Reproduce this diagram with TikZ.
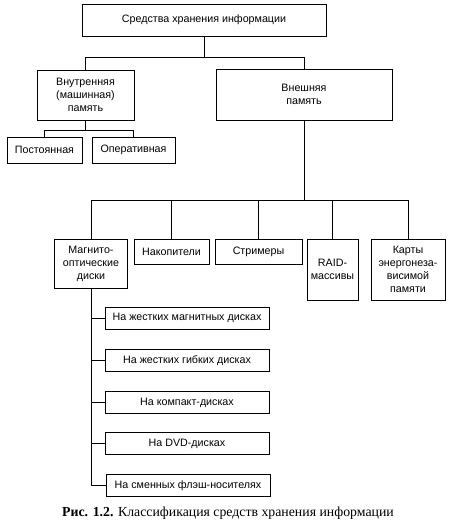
\documentclass[tikz,border=0pt]{standalone}
\usepackage{fontspec}
\setmainfont{Liberation Serif}
\setsansfont{Liberation Sans}
\usepackage{tikz}
\usetikzlibrary{positioning}

\begin{document}
\begin{tikzpicture}[x=1pt,y=-1pt,line width=0.8pt]
  \tikzstyle{box}=[draw,rectangle,align=center,inner sep=1pt,
                   font=\sffamily\fontsize{10.7}{13}\selectfont]
  \useasboundingbox (0,0) rectangle (453,527);

  \node[box,minimum width=244pt,minimum height=32pt] (Top)   at (204,20)    {Средства хранения информации};
  \node[box,minimum width=97pt,minimum height=50pt]  (Inner) at (85.5,95)   {Внутренняя\\(машинная)\\память};
  \node[box,minimum width=176pt,minimum height=51pt] (Outer) at (304,94.5)  {Внешняя\\память};
  \node[box,minimum width=75pt,minimum height=26pt]  (Rom)   at (44.5,150)  {Постоянная};
  \node[box,minimum width=83pt,minimum height=26pt]  (Ram)   at (133.5,150) {Оперативная};

  \node[box,minimum width=73pt,minimum height=49pt]  (Mag)   at (91,263.5)    {Магнито-\\оптические\\диски};
  \node[box,minimum width=75pt,minimum height=25pt]  (Nak)   at (171.5,251.5) {Накопители};
  \node[box,minimum width=87pt,minimum height=25pt]  (Strim) at (258.5,251.5) {Стримеры};
  \node[box,minimum width=51pt,minimum height=61pt]  (Raid)  at (332.5,269.5) {RAID-\\массивы};
  \node[box,minimum width=74pt,minimum height=61pt]  (Card)  at (408,269.5)   {Карты\\энергонеза-\\висимой\\памяти};

  \node[box,minimum width=164pt,minimum height=22pt] (S1) at (187,318)   {На жестких магнитных дисках};
  \node[box,minimum width=164pt,minimum height=22pt] (S2) at (187,360.5) {На жестких гибких дисках};
  \node[box,minimum width=164pt,minimum height=22pt] (S3) at (187,402.5) {На компакт-дисках};
  \node[box,minimum width=164pt,minimum height=22pt] (S4) at (187,443.5) {На DVD-дисках};
  \node[box,minimum width=164pt,minimum height=22pt] (S5) at (188,485.5) {На сменных флэш-носителях};

  \node[font=\fontsize{13.8}{16}\selectfont] (Cap) at (228,513)
    {\textbf{Рис. 1.2.} Классификация средств хранения информации};

  \draw (Top.south) -- ++(0,21) coordinate (t1);
  \draw (t1) -| (Inner);
  \draw (t1) -| (Outer);

  \draw (Inner.south) -- ++(0,10) coordinate (i1);
  \draw (i1) -| (Rom);
  \draw (i1) -| (Ram);

  \draw (Outer.south) -- ++(0,80) coordinate (o1);
  \draw (o1) -| (Mag);
  \draw (o1) -| (Nak);
  \draw (o1) -| (Strim);
  \draw (o1) -| (Raid);
  \draw (o1) -| (Card);

  \draw (Mag.south) |- (S1);
  \draw (Mag.south) |- (S2);
  \draw (Mag.south) |- (S3);
  \draw (Mag.south) |- (S4);
  \draw (Mag.south) |- (S5);
\end{tikzpicture}
\end{document}
